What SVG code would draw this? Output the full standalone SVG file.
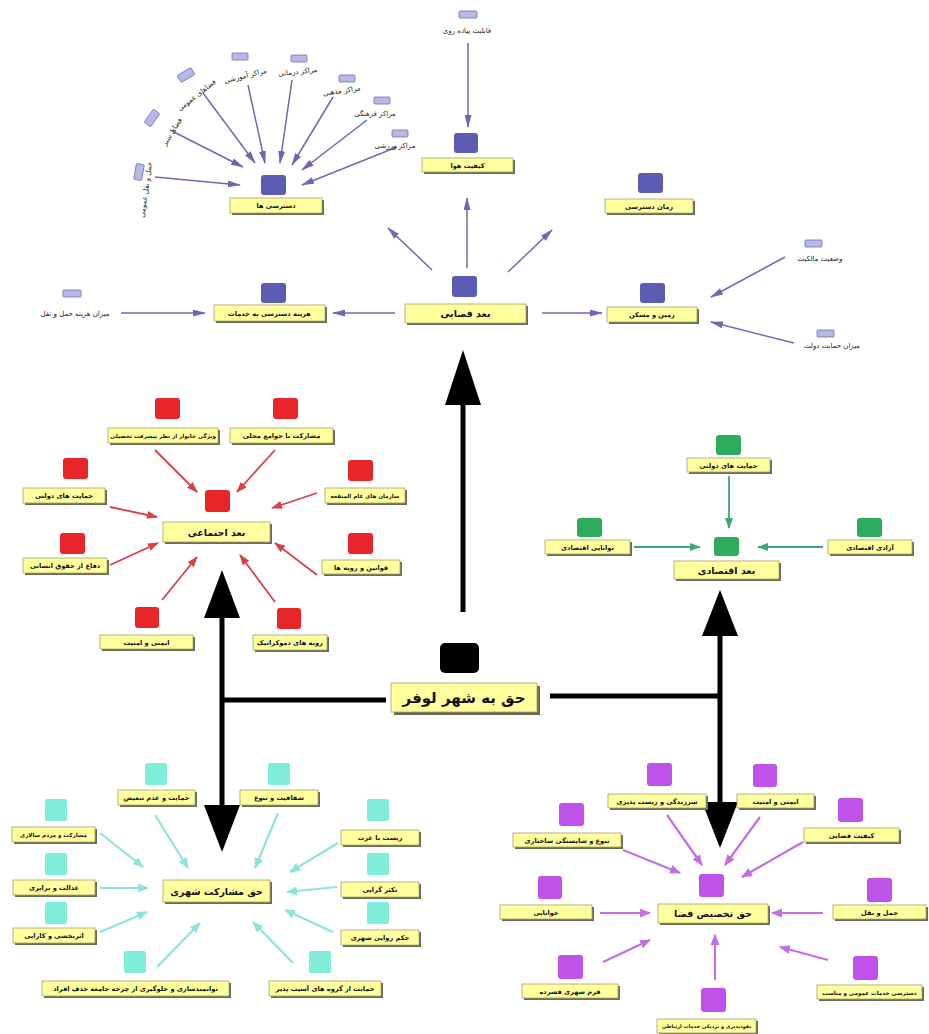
<svg xmlns="http://www.w3.org/2000/svg" width="929" height="1034" viewBox="0 0 929 1034">
<defs>
<style>
.bg{fill:#ffffff}
.box{fill:#ffff9e;stroke:#a0a070;stroke-width:0.8}
.sh{fill:#6b6b55}
.t{font-family:"DejaVu Sans",sans-serif;font-size:6.6px;font-weight:bold;text-anchor:middle;fill:#111}
.t2{font-family:"DejaVu Sans",sans-serif;font-size:5.6px;font-weight:bold;text-anchor:middle;fill:#111}
.t3{font-family:"DejaVu Sans",sans-serif;font-size:5px;font-weight:bold;text-anchor:middle;fill:#111}
.tm{font-family:"DejaVu Sans",sans-serif;font-size:9.5px;font-weight:bold;text-anchor:middle;fill:#111}
.tc{font-family:"DejaVu Sans",sans-serif;font-size:15px;font-weight:bold;text-anchor:middle;fill:#111}
.ts{font-family:"DejaVu Sans",sans-serif;font-size:7px;text-anchor:middle;fill:#222}
.bsq{fill:#5c5cb4}
.bsm{fill:#b8b8e8;stroke:#7070b8;stroke-width:0.8}
.rsq{fill:#e8262a}
.gsq{fill:#2eac5e}
.csq{fill:#80ecda}
.psq{fill:#c052ec}
.lb{stroke:#6a6ab4;stroke-width:1.5;fill:none;marker-end:url(#ab)}
.lr{stroke:#d8404a;stroke-width:1.8;fill:none;marker-end:url(#ar)}
.lg{stroke:#3aa872;stroke-width:1.8;fill:none;marker-end:url(#ag)}
.lc{stroke:#8ce4dc;stroke-width:2.2;fill:none;marker-end:url(#ac)}
.lp{stroke:#c46ee4;stroke-width:2.2;fill:none;marker-end:url(#ap)}
.lk{stroke:#000;stroke-width:5;fill:none}
.hk{fill:#000}
</style>
<marker id="ab" viewBox="0 0 13 7" refX="12" refY="3.5" markerWidth="13" markerHeight="7" markerUnits="userSpaceOnUse" orient="auto"><path d="M0,0 L13,3.5 L0,7 z" fill="#6a6ab4"/></marker>
<marker id="ar" viewBox="0 0 11 8" refX="10" refY="4" markerWidth="11" markerHeight="8" markerUnits="userSpaceOnUse" orient="auto"><path d="M0,0 L11,4 L0,8 z" fill="#d8404a"/></marker>
<marker id="ag" viewBox="0 0 11 8" refX="10" refY="4" markerWidth="11" markerHeight="8" markerUnits="userSpaceOnUse" orient="auto"><path d="M0,0 L11,4 L0,8 z" fill="#3aa872"/></marker>
<marker id="ac" viewBox="0 0 11 9" refX="10" refY="4.5" markerWidth="11" markerHeight="9" markerUnits="userSpaceOnUse" orient="auto"><path d="M0,0 L11,4.5 L0,9 z" fill="#8ce4dc"/></marker>
<marker id="ap" viewBox="0 0 11 9" refX="10" refY="4.5" markerWidth="11" markerHeight="9" markerUnits="userSpaceOnUse" orient="auto"><path d="M0,0 L11,4.5 L0,9 z" fill="#c46ee4"/></marker>
</defs>
<rect class="bg" x="0" y="0" width="929" height="1034"/>

<g id="connectors">
<!-- spatial -->
<line class="lb" x1="155" y1="177" x2="240" y2="185"/>
<line class="lb" x1="170" y1="130" x2="243" y2="167"/>
<line class="lb" x1="203" y1="93" x2="255" y2="163"/>
<line class="lb" x1="248" y1="85" x2="265" y2="163"/>
<line class="lb" x1="292" y1="80" x2="280" y2="163"/>
<line class="lb" x1="333" y1="97" x2="292" y2="165"/>
<line class="lb" x1="367" y1="120" x2="302" y2="170"/>
<line class="lb" x1="397" y1="147" x2="302" y2="185"/>
<line class="lb" x1="468" y1="43" x2="468" y2="127"/>
<line class="lb" x1="467" y1="268" x2="467" y2="198"/>
<line class="lb" x1="432" y1="270" x2="388" y2="228"/>
<line class="lb" x1="508" y1="272" x2="552" y2="230"/>
<line class="lb" x1="395" y1="313" x2="333" y2="313"/>
<line class="lb" x1="542" y1="313" x2="602" y2="313"/>
<line class="lb" x1="121" y1="313" x2="205" y2="313"/>
<line class="lb" x1="785" y1="257" x2="711" y2="297"/>
<line class="lb" x1="794" y1="343" x2="711" y2="322"/>
<!-- social -->
<line class="lr" x1="155" y1="450" x2="197" y2="492"/>
<line class="lr" x1="275" y1="450" x2="237" y2="492"/>
<line class="lr" x1="110" y1="507" x2="157" y2="517"/>
<line class="lr" x1="317" y1="493" x2="272" y2="508"/>
<line class="lr" x1="110" y1="565" x2="158" y2="543"/>
<line class="lr" x1="317" y1="575" x2="275" y2="543"/>
<line class="lr" x1="162" y1="600" x2="197" y2="557"/>
<line class="lr" x1="275" y1="602" x2="240" y2="555"/>
<!-- economic -->
<line class="lg" x1="729" y1="476" x2="729" y2="528"/>
<line class="lg" x1="634" y1="547" x2="700" y2="547"/>
<line class="lg" x1="823" y1="547" x2="758" y2="547"/>
<!-- participation -->
<line class="lc" x1="100" y1="833" x2="143" y2="867"/>
<line class="lc" x1="100" y1="888" x2="148" y2="888"/>
<line class="lc" x1="100" y1="932" x2="147" y2="912"/>
<line class="lc" x1="155" y1="815" x2="188" y2="868"/>
<line class="lc" x1="278" y1="813" x2="255" y2="868"/>
<line class="lc" x1="338" y1="843" x2="290" y2="872"/>
<line class="lc" x1="337" y1="887" x2="287" y2="892"/>
<line class="lc" x1="333" y1="932" x2="285" y2="910"/>
<line class="lc" x1="157" y1="967" x2="200" y2="923"/>
<line class="lc" x1="293" y1="963" x2="253" y2="922"/>
<!-- appropriation -->
<line class="lp" x1="667" y1="815" x2="702" y2="865"/>
<line class="lp" x1="760" y1="817" x2="725" y2="865"/>
<line class="lp" x1="803" y1="842" x2="742" y2="877"/>
<line class="lp" x1="623" y1="850" x2="680" y2="873"/>
<line class="lp" x1="600" y1="913" x2="650" y2="913"/>
<line class="lp" x1="823" y1="913" x2="772" y2="913"/>
<line class="lp" x1="603" y1="962" x2="650" y2="940"/>
<line class="lp" x1="828" y1="960" x2="780" y2="947"/>
<line class="lp" x1="715" y1="980" x2="715" y2="935"/>
<!-- main black -->
<line class="lk" x1="463" y1="612" x2="463" y2="400"/>
<polygon class="hk" points="463,350 445,405 481,405"/>
<line class="lk" x1="222" y1="612" x2="222" y2="810"/>
<line class="lk" x1="222" y1="700" x2="386" y2="700"/>
<polygon class="hk" points="222,570 204,618 240,618"/>
<polygon class="hk" points="222,852 204,805 240,805"/>
<line class="lk" x1="720" y1="632" x2="720" y2="806"/>
<line class="lk" x1="550" y1="696" x2="720" y2="696"/>
<polygon class="hk" points="720,590 702,636 738,636"/>
<polygon class="hk" points="720,848 702,802 738,802"/>
</g>

<!-- central -->
<g id="n-center">
<rect x="440" y="643" width="39" height="30" rx="5" fill="#000"/>
<rect class="sh" x="394" y="686" width="146" height="29"/>
<rect class="box" x="391" y="683" width="146" height="29"/>
<text class="tc" x="464" y="703">حق به شهر لوفر</text>
</g>

<!-- spatial dimension -->
<g id="n-spatial">
<rect class="bsq" x="452" y="276" width="25" height="21" rx="3"/>
<rect class="sh" x="407" y="306" width="121" height="19"/>
<rect class="box" x="405" y="304" width="121" height="19"/>
<text class="tm" x="465.5" y="317">بعد فضایی</text>
</g>
<g id="n-air">
<rect class="bsq" x="454" y="133" width="24" height="20" rx="3"/>
<rect class="sh" x="424" y="160" width="91" height="14"/>
<rect class="box" x="422" y="158" width="91" height="14"/>
<text class="t" x="467.5" y="167.5">کیفیت هوا</text>
</g>
<g id="n-time">
<rect class="bsq" x="638" y="173" width="25" height="20" rx="3"/>
<rect class="sh" x="607" y="201" width="88" height="14"/>
<rect class="box" x="605" y="199" width="88" height="14"/>
<text class="t" x="649" y="208.5">زمان دسترسی</text>
</g>
<g id="n-land">
<rect class="bsq" x="640" y="283" width="25" height="20" rx="3"/>
<rect class="sh" x="609" y="309" width="90" height="15"/>
<rect class="box" x="607" y="307" width="90" height="15"/>
<text class="t" x="652" y="317">زمین و مسکن</text>
</g>
<g id="n-cost">
<rect class="bsq" x="261" y="283" width="25" height="20" rx="3"/>
<rect class="sh" x="216" y="307" width="111" height="16"/>
<rect class="box" x="214" y="305" width="111" height="16"/>
<text class="t" x="269.5" y="315.5">هزینه دسترسی به خدمات</text>
</g>
<g id="n-access">
<rect class="bsq" x="261" y="175" width="25" height="20" rx="3"/>
<rect class="sh" x="232" y="200" width="92" height="15"/>
<rect class="box" x="230" y="198" width="92" height="15"/>
<text class="t" x="276" y="208">دسترسی ها</text>
</g>
<g id="n-walk"><rect class="bsm" x="459" y="11" width="18" height="7" rx="1"/><text class="ts" x="467" y="33">قابلیت پیاده روی</text></g>
<g id="n-owner"><rect class="bsm" x="805" y="240" width="17" height="7" rx="1"/><text class="ts" x="820" y="261">وضعیت مالکیت</text></g>
<g id="n-gov"><rect class="bsm" x="817" y="330" width="17" height="7" rx="1"/><text class="ts" x="832" y="348">میزان حمایت دولت</text></g>
<g id="n-tcost"><rect class="bsm" x="63" y="290" width="18" height="7" rx="1"/><text class="ts" x="75" y="316">میزان هزینه حمل و نقل</text></g>
<g id="n-sport"><rect class="bsm" x="392" y="130" width="16" height="7" rx="1"/><text class="ts" x="395" y="148">مراکز ورزشی</text></g>
<g id="n-culture"><rect class="bsm" x="374" y="97" width="16" height="7" rx="1"/><text class="ts" x="375" y="116">مراکز فرهنگی</text></g>
<g id="n-relig"><rect class="bsm" x="339" y="75" width="16" height="7" rx="1"/><text class="ts" transform="translate(342,93) rotate(-8)">مراکز مذهبی</text></g>
<g id="n-med"><rect class="bsm" x="291" y="55" width="16" height="7" rx="1"/><text class="ts" transform="translate(298,74) rotate(-6)">مراکز درمانی</text></g>
<g id="n-edu"><rect class="bsm" x="232" y="53" width="16" height="7" rx="1"/><text class="ts" transform="translate(246,78) rotate(-14)">مراکز آموزشی</text></g>
<g id="n-public"><rect class="bsm" x="-8" y="-4" width="16" height="8" rx="1" transform="translate(186,75) rotate(-30)"/><text class="ts" transform="translate(198,97) rotate(-38)">فضاهای عمومی</text></g>
<g id="n-greenspace"><rect class="bsm" x="-8" y="-4" width="16" height="8" rx="1" transform="translate(152,118) rotate(-55)"/><text class="ts" transform="translate(174,133) rotate(-58)">فضای سبز</text></g>
<g id="n-ptrans"><rect class="bsm" x="-8" y="-4" width="16" height="8" rx="1" transform="translate(139,172) rotate(-80)"/><text class="ts" transform="translate(148,190) rotate(-82)">حمل و نقل عمومی</text></g>

<!-- social dimension -->
<g id="n-social">
<rect class="rsq" x="205" y="490" width="25" height="22" rx="3"/>
<rect class="sh" x="165" y="524" width="107" height="20"/>
<rect class="box" x="163" y="522" width="107" height="20"/>
<text class="tm" x="216.5" y="535.5">بعد اجتماعی</text>
</g>
<g id="n-s1"><rect class="rsq" x="155" y="398" width="25" height="21" rx="3"/><rect class="sh" x="110" y="430" width="110" height="15"/><rect class="box" x="108" y="428" width="110" height="15"/><text class="t2" x="163" y="437.8">ویژگی خانوار از نظر پیشرفت تحصیلی</text></g>
<g id="n-s2"><rect class="rsq" x="273" y="398" width="25" height="21" rx="3"/><rect class="sh" x="232" y="430" width="103" height="15"/><rect class="box" x="230" y="428" width="103" height="15"/><text class="t" x="281.5" y="438">مشارکت با جوامع محلی</text></g>
<g id="n-s3"><rect class="rsq" x="63" y="458" width="25" height="21" rx="3"/><rect class="sh" x="25" y="490" width="82" height="15"/><rect class="box" x="23" y="488" width="82" height="15"/><text class="t" x="64" y="498">حمایت های دولتی</text></g>
<g id="n-s4"><rect class="rsq" x="348" y="460" width="25" height="21" rx="3"/><rect class="sh" x="327" y="490" width="80" height="15"/><rect class="box" x="325" y="488" width="80" height="15"/><text class="t2" x="365" y="497.8">سازمان های عام المنفعه</text></g>
<g id="n-s5"><rect class="rsq" x="60" y="533" width="25" height="21" rx="3"/><rect class="sh" x="25" y="560" width="84" height="15"/><rect class="box" x="23" y="558" width="84" height="15"/><text class="t" x="65" y="568">دفاع از حقوق انسانی</text></g>
<g id="n-s6"><rect class="rsq" x="348" y="533" width="25" height="21" rx="3"/><rect class="sh" x="324" y="562" width="78" height="14"/><rect class="box" x="322" y="560" width="78" height="14"/><text class="t" x="361" y="569.5">قوانین و رویه ها</text></g>
<g id="n-s7"><rect class="rsq" x="135" y="607" width="24" height="21" rx="3"/><rect class="sh" x="102" y="637" width="93" height="14"/><rect class="box" x="100" y="635" width="93" height="14"/><text class="t" x="146.5" y="644.5">ایمنی و امنیت</text></g>
<g id="n-s8"><rect class="rsq" x="277" y="608" width="24" height="21" rx="3"/><rect class="sh" x="255" y="637" width="74" height="15"/><rect class="box" x="253" y="635" width="74" height="15"/><text class="t" x="290" y="645">رویه های دموکراتیک</text></g>

<!-- economic dimension -->
<g id="n-econ">
<rect class="gsq" x="714" y="537" width="25" height="19" rx="3"/>
<rect class="sh" x="676" y="563" width="105" height="18"/>
<rect class="box" x="674" y="561" width="105" height="18"/>
<text class="tm" x="726.5" y="573.5">بعد اقتصادی</text>
</g>
<g id="n-e1"><rect class="gsq" x="716" y="435" width="25" height="20" rx="3"/><rect class="sh" x="689" y="460" width="83" height="14"/><rect class="box" x="687" y="458" width="83" height="14"/><text class="t" x="728.5" y="467.5">حمایت های دولتی</text></g>
<g id="n-e2"><rect class="gsq" x="577" y="518" width="25" height="19" rx="3"/><rect class="sh" x="547" y="542" width="85" height="14"/><rect class="box" x="545" y="540" width="85" height="14"/><text class="t" x="587.5" y="549.5">توانایی اقتصادی</text></g>
<g id="n-e3"><rect class="gsq" x="857" y="518" width="25" height="19" rx="3"/><rect class="sh" x="830" y="542" width="84" height="14"/><rect class="box" x="828" y="540" width="84" height="14"/><text class="t" x="870" y="549.5">آزادی اقتصادی</text></g>

<!-- participation -->
<g id="n-part">
<rect class="sh" x="165" y="882" width="107" height="22"/>
<rect class="box" x="163" y="880" width="107" height="22"/>
<text class="tm" x="216.5" y="894.5">حق مشارکت شهری</text>
</g>
<g id="n-c1"><rect class="csq" x="145" y="763" width="22" height="22" rx="2"/><rect class="sh" x="120" y="792" width="77" height="15"/><rect class="box" x="118" y="790" width="77" height="15"/><text class="t" x="156.5" y="800">حمایت و عدم تبعیض</text></g>
<g id="n-c2"><rect class="csq" x="268" y="763" width="22" height="22" rx="2"/><rect class="sh" x="242" y="792" width="78" height="15"/><rect class="box" x="240" y="790" width="78" height="15"/><text class="t" x="279" y="800">شفافیت و تنوع</text></g>
<g id="n-c3"><rect class="csq" x="45" y="799" width="22" height="22" rx="2"/><rect class="sh" x="14" y="829" width="83" height="15"/><rect class="box" x="12" y="827" width="83" height="15"/><text class="t2" x="53.5" y="836.8">مشارکت و مردم سالاری</text></g>
<g id="n-c4"><rect class="csq" x="45" y="853" width="22" height="22" rx="2"/><rect class="sh" x="15" y="882" width="82" height="15"/><rect class="box" x="13" y="880" width="82" height="15"/><text class="t" x="54" y="890">عدالت و برابری</text></g>
<g id="n-c5"><rect class="csq" x="45" y="902" width="22" height="22" rx="2"/><rect class="sh" x="15" y="930" width="82" height="15"/><rect class="box" x="13" y="928" width="82" height="15"/><text class="t" x="54" y="938">اثربخشی و کارایی</text></g>
<g id="n-c6"><rect class="csq" x="124" y="951" width="22" height="22" rx="2"/><rect class="sh" x="44" y="983" width="187" height="15"/><rect class="box" x="42" y="981" width="187" height="15"/><text class="t" x="135.5" y="991">توانمندسازی و جلوگیری از چرخه جامعه حذف افراد</text></g>
<g id="n-c7"><rect class="csq" x="367" y="799" width="22" height="22" rx="2"/><rect class="sh" x="343" y="832" width="78" height="15"/><rect class="box" x="341" y="830" width="78" height="15"/><text class="t" x="380" y="840">زیست با عزت</text></g>
<g id="n-c8"><rect class="csq" x="367" y="853" width="22" height="22" rx="2"/><rect class="sh" x="343" y="884" width="78" height="15"/><rect class="box" x="341" y="882" width="78" height="15"/><text class="t" x="380" y="892">تکثر گرایی</text></g>
<g id="n-c9"><rect class="csq" x="367" y="902" width="22" height="22" rx="2"/><rect class="sh" x="343" y="932" width="78" height="15"/><rect class="box" x="341" y="930" width="78" height="15"/><text class="t" x="380" y="940">حکم روایی شهری</text></g>
<g id="n-c10"><rect class="csq" x="309" y="951" width="22" height="22" rx="2"/><rect class="sh" x="271" y="983" width="112" height="15"/><rect class="box" x="269" y="981" width="112" height="15"/><text class="t" x="325" y="991">حمایت از گروه های آسیب پذیر</text></g>

<!-- appropriation -->
<g id="n-approp">
<rect class="psq" x="699" y="874" width="25" height="23" rx="3"/>
<rect class="sh" x="660" y="906" width="110" height="19"/>
<rect class="box" x="658" y="904" width="110" height="19"/>
<text class="tm" x="713" y="917">حق تخصیص فضا</text>
</g>
<g id="n-p1"><rect class="psq" x="647" y="763" width="25" height="23" rx="3"/><rect class="sh" x="610" y="796" width="98" height="14"/><rect class="box" x="608" y="794" width="98" height="14"/><text class="t" x="657" y="803.5">سرزندگی و زیست پذیری</text></g>
<g id="n-p2"><rect class="psq" x="753" y="764" width="24" height="23" rx="3"/><rect class="sh" x="739" y="796" width="77" height="14"/><rect class="box" x="737" y="794" width="77" height="14"/><text class="t" x="775.5" y="803.5">ایمنی و امنیت</text></g>
<g id="n-p3"><rect class="psq" x="838" y="798" width="25" height="24" rx="3"/><rect class="sh" x="806" y="830" width="95" height="14"/><rect class="box" x="804" y="828" width="95" height="14"/><text class="t" x="851.5" y="837.5">کیفیت فضایی</text></g>
<g id="n-p4"><rect class="psq" x="559" y="803" width="25" height="23" rx="3"/><rect class="sh" x="515" y="835" width="108" height="14"/><rect class="box" x="513" y="833" width="108" height="14"/><text class="t" x="567" y="842.5">تنوع و شایستگی ساختاری</text></g>
<g id="n-p5"><rect class="psq" x="538" y="876" width="24" height="23" rx="3"/><rect class="sh" x="502" y="907" width="92" height="14"/><rect class="box" x="500" y="905" width="92" height="14"/><text class="t" x="546" y="914.5">خوانایی</text></g>
<g id="n-p6"><rect class="psq" x="867" y="878" width="25" height="24" rx="3"/><rect class="sh" x="835" y="907" width="93" height="14"/><rect class="box" x="833" y="905" width="93" height="14"/><text class="t" x="879.5" y="914.5">حمل و نقل</text></g>
<g id="n-p7"><rect class="psq" x="558" y="955" width="25" height="24" rx="3"/><rect class="sh" x="524" y="986" width="96" height="14"/><rect class="box" x="522" y="984" width="96" height="14"/><text class="t" x="570" y="993.5">فرم شهری فشرده</text></g>
<g id="n-p8"><rect class="psq" x="701" y="988" width="25" height="24" rx="3"/><rect class="sh" x="659" y="1021" width="99" height="14"/><rect class="box" x="657" y="1019" width="99" height="14"/><text class="t3" x="706.5" y="1028">نفوذپذیری و نزدیکی خدمات ارتباطی</text></g>
<g id="n-p9"><rect class="psq" x="853" y="956" width="25" height="24" rx="3"/><rect class="sh" x="819" y="987" width="105" height="14"/><rect class="box" x="817" y="985" width="105" height="14"/><text class="t2" x="869.5" y="994.5">دسترسی خدمات عمومی و مناسب</text></g>
</svg>
